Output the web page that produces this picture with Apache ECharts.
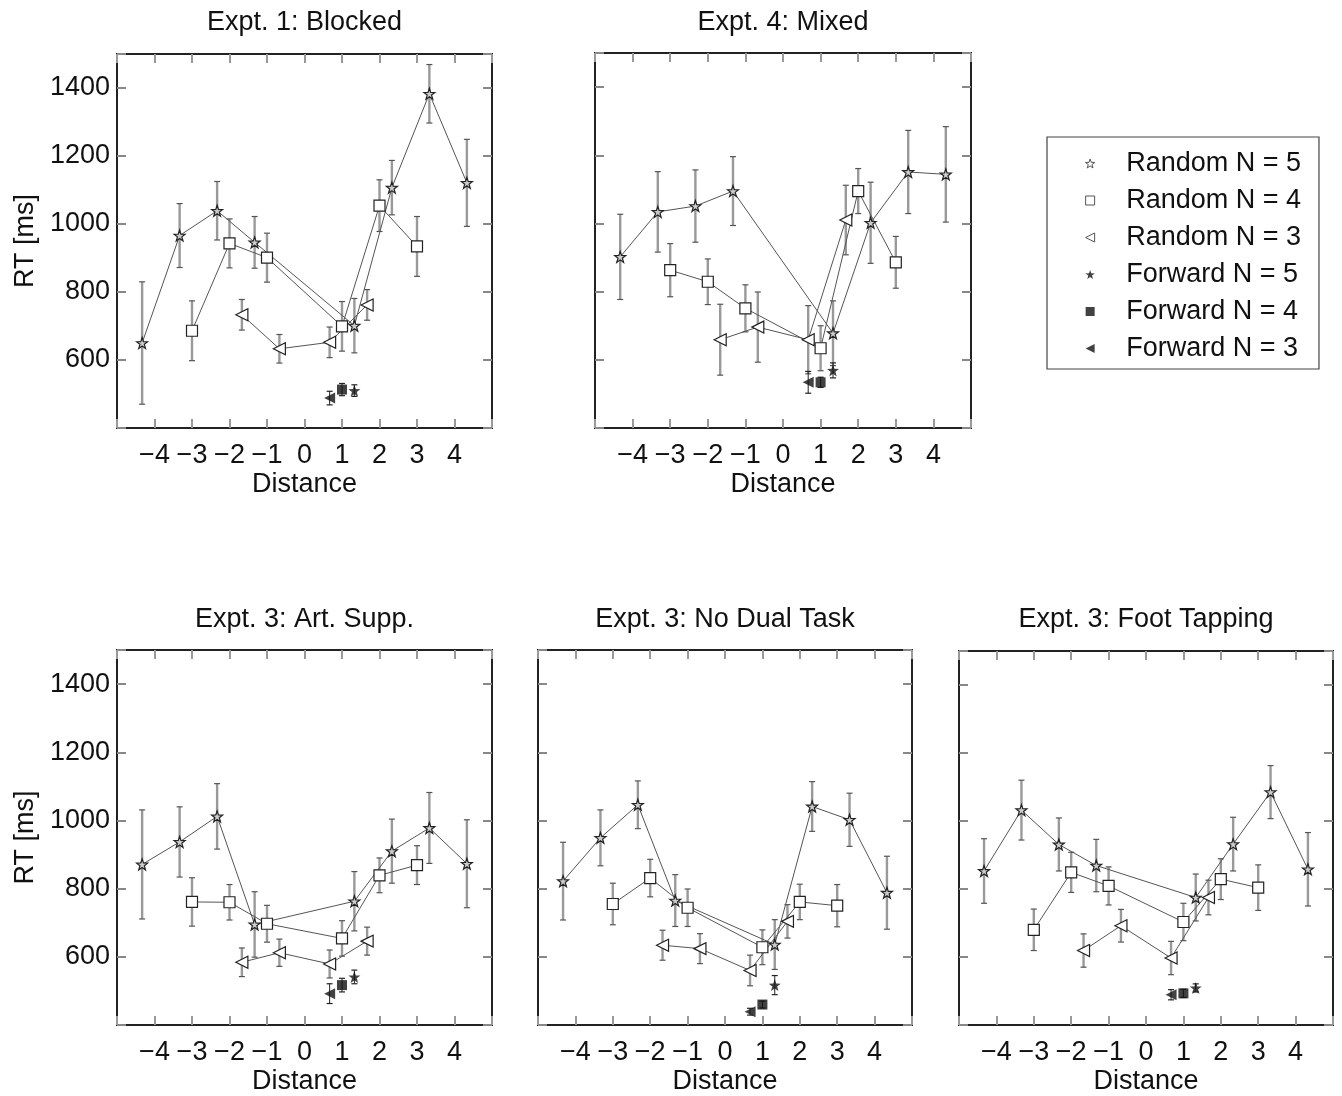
<!DOCTYPE html>
<html>
<head>
<meta charset="utf-8">
<script src="https://cdn.jsdelivr.net/npm/echarts@6/dist/echarts.min.js"></script>
<style>
  html, body { margin: 0; padding: 0; background: #fff; }
  #chart { width: 1342px; height: 1096px; }
</style>
</head>
<body>
<div id="chart"></div>
<script>
// x positions (distance, with small offsets per list length)
var distRand5 = [-4.33, -3.33, -2.33, -1.33, 1.33, 2.33, 3.33, 4.33];
var distRand4 = [-3, -2, -1, 1, 2, 3];
var distRand3 = [-1.67, -0.67, 0.67, 1.67];
var distFwd = [0.67, 1, 1.33]; // forward N = 3, 4, 5

var panelTitles = [
  "Expt. 1: Blocked",
  "Expt. 4: Mixed",
  "Expt. 3: Art. Supp.",
  "Expt. 3: No Dual Task",
  "Expt. 3: Foot Tapping",
];

// Expt. 1: Blocked
var blockedR5 = [650, 966, 1039, 946, 701, 1107, 1383, 1121];
var blockedR5Err = [180, 94, 86, 76, 80, 80, 86, 128];
var blockedR4 = [686, 943, 901, 699, 1054, 934];
var blockedR4Err = [88, 72, 72, 73, 76, 88];
var blockedR3 = [733, 633, 652, 762];
var blockedR3Err = [45, 42, 45, 45];
var blockedFwd = [488, 513, 510];
var blockedFwdErr = [20, 18, 17];

// Expt. 4: Mixed
var mixedR5 = [902, 1034, 1051, 1095, 678, 1002, 1151, 1144];
var mixedR5Err = [125, 118, 106, 101, 95, 119, 122, 140];
var mixedR4 = [863, 829, 751, 634, 1095, 886];
var mixedR4Err = [78, 67, 69, 66, 66, 76];
var mixedR3 = [659, 696, 659, 1010];
var mixedR3Err = [104, 103, 100, 102];
var mixedFwd = [534, 534, 569];
var mixedFwdErr = [32, 15, 22];

// Expt. 3: Art. Supp.
var artR5 = [871, 937, 1012, 695, 763, 910, 978, 873];
var artR5Err = [160, 103, 96, 96, 87, 94, 104, 129];
var artR4 = [761, 760, 697, 654, 839, 869];
var artR4Err = [71, 52, 54, 52, 51, 57];
var artR3 = [584, 612, 579, 646];
var artR3Err = [42, 40, 41, 41];
var artFwd = [492, 517, 541];
var artFwdErr = [29, 20, 20];

// Expt. 3: No Dual Task
var noDualR5 = [822, 949, 1046, 765, 636, 1041, 1002, 788];
var noDualR5Err = [114, 82, 70, 76, 73, 73, 78, 107];
var noDualR4 = [755, 831, 744, 628, 761, 750];
var noDualR4Err = [61, 55, 55, 51, 52, 62];
var noDualR3 = [634, 624, 560, 704];
var noDualR3Err = [44, 44, 45, 49];
var noDualFwd = [439, 460, 517];
var noDualFwdErr = [10, 10, 28];

// Expt. 3: Foot Tapping
var footR5 = [853, 1032, 931, 869, 775, 932, 1085, 858];
var footR5Err = [95, 88, 78, 77, 69, 79, 78, 108];
var footR4 = [680, 849, 809, 703, 829, 804];
var footR4Err = [61, 59, 56, 55, 60, 67];
var footR3 = [619, 692, 597, 775];
var footR3Err = [49, 48, 49, 51];
var footFwd = [489, 493, 509];
var footFwdErr = [15, 12, 12];

var seriesNames = [
  "Random N = 5",
  "Random N = 4",
  "Random N = 3",
  "Forward N = 5",
  "Forward N = 4",
  "Forward N = 3",
];

var panels = [
  { r5: blockedR5, r5e: blockedR5Err, r4: blockedR4, r4e: blockedR4Err, r3: blockedR3, r3e: blockedR3Err, fwd: blockedFwd, fwde: blockedFwdErr },
  { r5: mixedR5, r5e: mixedR5Err, r4: mixedR4, r4e: mixedR4Err, r3: mixedR3, r3e: mixedR3Err, fwd: mixedFwd, fwde: mixedFwdErr },
  { r5: artR5, r5e: artR5Err, r4: artR4, r4e: artR4Err, r3: artR3, r3e: artR3Err, fwd: artFwd, fwde: artFwdErr },
  { r5: noDualR5, r5e: noDualR5Err, r4: noDualR4, r4e: noDualR4Err, r3: noDualR3, r3e: noDualR3Err, fwd: noDualFwd, fwde: noDualFwdErr },
  { r5: footR5, r5e: footR5Err, r4: footR4, r4e: footR4Err, r3: footR3, r3e: footR3Err, fwd: footFwd, fwde: footFwdErr },
];

var gridBoxes = [
  { left: 117, top: 54, width: 375, height: 374 },
  { left: 595, top: 53, width: 376, height: 375 },
  { left: 117, top: 650, width: 375, height: 375 },
  { left: 538, top: 650, width: 374, height: 375 },
  { left: 959, top: 651, width: 374, height: 375 },
];

var STAR = "path://M5,0L6.2,3.6L10,3.7L7,6L8.1,9.7L5,7.5L1.9,9.7L3,6L0,3.7L3.8,3.6Z";
var SQUARE = "path://M0,0L10,0L10,10L0,10Z";
var TRI_LEFT = "path://M0,5L10,0L10,10Z";
var FONT = "Liberation Sans";

var chart = echarts.init(document.getElementById("chart"));

function pairs(xs, ys) {
  return xs.map(function (x, i) {
    return [x, ys[i]];
  });
}

function errorBars(g, xs, ys, errs, barColor, barWidth, capColor) {
  return {
    type: "custom",
    xAxisIndex: g * 2,
    yAxisIndex: g * 2,
    silent: true,
    z: 1,
    encode: { x: 0, y: [1, 2] },
    data: xs.map(function (x, i) {
      return [x, ys[i] - errs[i], ys[i] + errs[i]];
    }),
    renderItem: function (params, api) {
      var lo = api.coord([api.value(0), api.value(1)]);
      var hi = api.coord([api.value(0), api.value(2)]);
      var cw = 3;
      return {
        type: "group",
        children: [
          { type: "line", shape: { x1: lo[0], y1: lo[1], x2: hi[0], y2: hi[1] }, style: { stroke: barColor, lineWidth: barWidth } },
          { type: "line", shape: { x1: lo[0] - cw, y1: lo[1], x2: lo[0] + cw, y2: lo[1] }, style: { stroke: capColor, lineWidth: 1.2 } },
          { type: "line", shape: { x1: hi[0] - cw, y1: hi[1], x2: hi[0] + cw, y2: hi[1] }, style: { stroke: capColor, lineWidth: 1.2 } },
        ],
      };
    },
  };
}

function randomLine(g, name, xs, ys, symbol, size, fill) {
  return {
    name: name,
    type: "line",
    xAxisIndex: g * 2,
    yAxisIndex: g * 2,
    data: pairs(xs, ys),
    symbol: symbol,
    symbolSize: size,
    showAllSymbol: true,
    z: 3,
    lineStyle: { color: "#555", width: 1 },
    itemStyle: { color: fill, borderColor: "#222", borderWidth: 1.2 },
  };
}

function forwardPoint(g, name, x, y, symbol, size) {
  return {
    name: name,
    type: "scatter",
    xAxisIndex: g * 2,
    yAxisIndex: g * 2,
    data: [[x, y]],
    symbol: symbol,
    symbolSize: size,
    z: 4,
    itemStyle: { color: "#111" },
  };
}

var grids = [];
var xAxes = [];
var yAxes = [];
var titles = [];
var series = [];

gridBoxes.forEach(function (box, g) {
  grids.push({
    left: box.left,
    top: box.top,
    width: box.width,
    height: box.height,
    show: true,
    borderColor: "#222",
    borderWidth: 2,
    backgroundColor: "#fff",
  });

  titles.push({
    text: panelTitles[g],
    left: box.left + box.width / 2,
    top: g < 2 ? 9 : 606,
    textAlign: "center",
    padding: 0,
    textStyle: { fontFamily: FONT, fontSize: 27, fontWeight: "normal", color: "#111" },
  });

  var xBase = {
    type: "value",
    gridIndex: g,
    min: -5,
    max: 5,
    interval: 1,
    splitLine: { show: false },
    axisLine: { show: false, onZero: false },
    axisTick: { inside: true, length: 9, lineStyle: { color: "#999", width: 2 } },
  };
  xAxes.push(Object.assign({}, xBase, {
    position: "bottom",
    name: "Distance",
    nameLocation: "middle",
    nameGap: 43,
    nameTextStyle: { fontFamily: FONT, fontSize: 27, color: "#111" },
    axisLabel: {
      fontFamily: FONT,
      fontSize: 27,
      color: "#111",
      margin: 14,
      formatter: function (v) {
        if (v <= -5 || v >= 5) return "";
        return v < 0 ? "\u2212" + Math.abs(v) : String(v);
      },
    },
  }));
  xAxes.push(Object.assign({}, xBase, { position: "top", axisLabel: { show: false } }));

  var yBase = {
    type: "value",
    gridIndex: g,
    min: 400,
    max: 1500,
    interval: 200,
    splitLine: { show: false },
    axisLine: { show: false, onZero: false },
    axisTick: { inside: true, length: 9, lineStyle: { color: "#888", width: 2 } },
  };
  var showLabels = g === 0 || g === 2;
  yAxes.push(Object.assign({}, yBase, {
    position: "left",
    name: showLabels ? "RT [ms]" : "",
    nameLocation: "middle",
    nameGap: 78,
    nameTextStyle: { fontFamily: FONT, fontSize: 27, color: "#111" },
    axisLabel: {
      show: showLabels,
      fontFamily: FONT,
      fontSize: 27,
      color: "#111",
      margin: 7,
      formatter: function (v) {
        return v >= 600 && v <= 1400 ? String(v) : "";
      },
    },
  }));
  yAxes.push(Object.assign({}, yBase, { position: "right", axisLabel: { show: false } }));

  var p = panels[g];
  series.push(errorBars(g, distRand5, p.r5, p.r5e, "#999", 2.4, "#555"));
  series.push(errorBars(g, distRand4, p.r4, p.r4e, "#999", 2.4, "#555"));
  series.push(errorBars(g, distRand3, p.r3, p.r3e, "#999", 2.4, "#555"));
  series.push(errorBars(g, distFwd, p.fwd, p.fwde, "#222", 1, "#222"));

  series.push(randomLine(g, seriesNames[0], distRand5, p.r5, STAR, 11, "#ccc"));
  series.push(randomLine(g, seriesNames[1], distRand4, p.r4, SQUARE, 11, "#fff"));
  series.push(randomLine(g, seriesNames[2], distRand3, p.r3, TRI_LEFT, 12, "#fff"));

  series.push(forwardPoint(g, seriesNames[3], distFwd[2], p.fwd[2], STAR, 12));
  series.push(forwardPoint(g, seriesNames[4], distFwd[1], p.fwd[1], SQUARE, 10));
  series.push(forwardPoint(g, seriesNames[5], distFwd[0], p.fwd[0], TRI_LEFT, 11));
});

var legendIcons = [STAR, SQUARE, TRI_LEFT, STAR, SQUARE, TRI_LEFT];

chart.setOption({
  animation: false,
  backgroundColor: "#fff",
  title: titles,
  grid: grids,
  xAxis: xAxes,
  yAxis: yAxes,
  legend: {
    orient: "vertical",
    left: 1047,
    top: 137,
    padding: [13, 18, 7, 38],
    itemGap: 10,
    itemWidth: 62,
    itemHeight: 9,
    borderColor: "#444",
    borderWidth: 1.2,
    selectedMode: false,
    textStyle: { fontFamily: FONT, fontSize: 27, color: "#111" },
    data: seriesNames.map(function (n, i) {
      var filled = i >= 3;
      return {
        name: n,
        icon: legendIcons[i],
        itemStyle: filled
          ? { color: "#111", borderWidth: 0 }
          : { color: "#fff", borderColor: "#555", borderWidth: 1 },
      };
    }),
  },
  series: series,
});
</script>
</body>
</html>
